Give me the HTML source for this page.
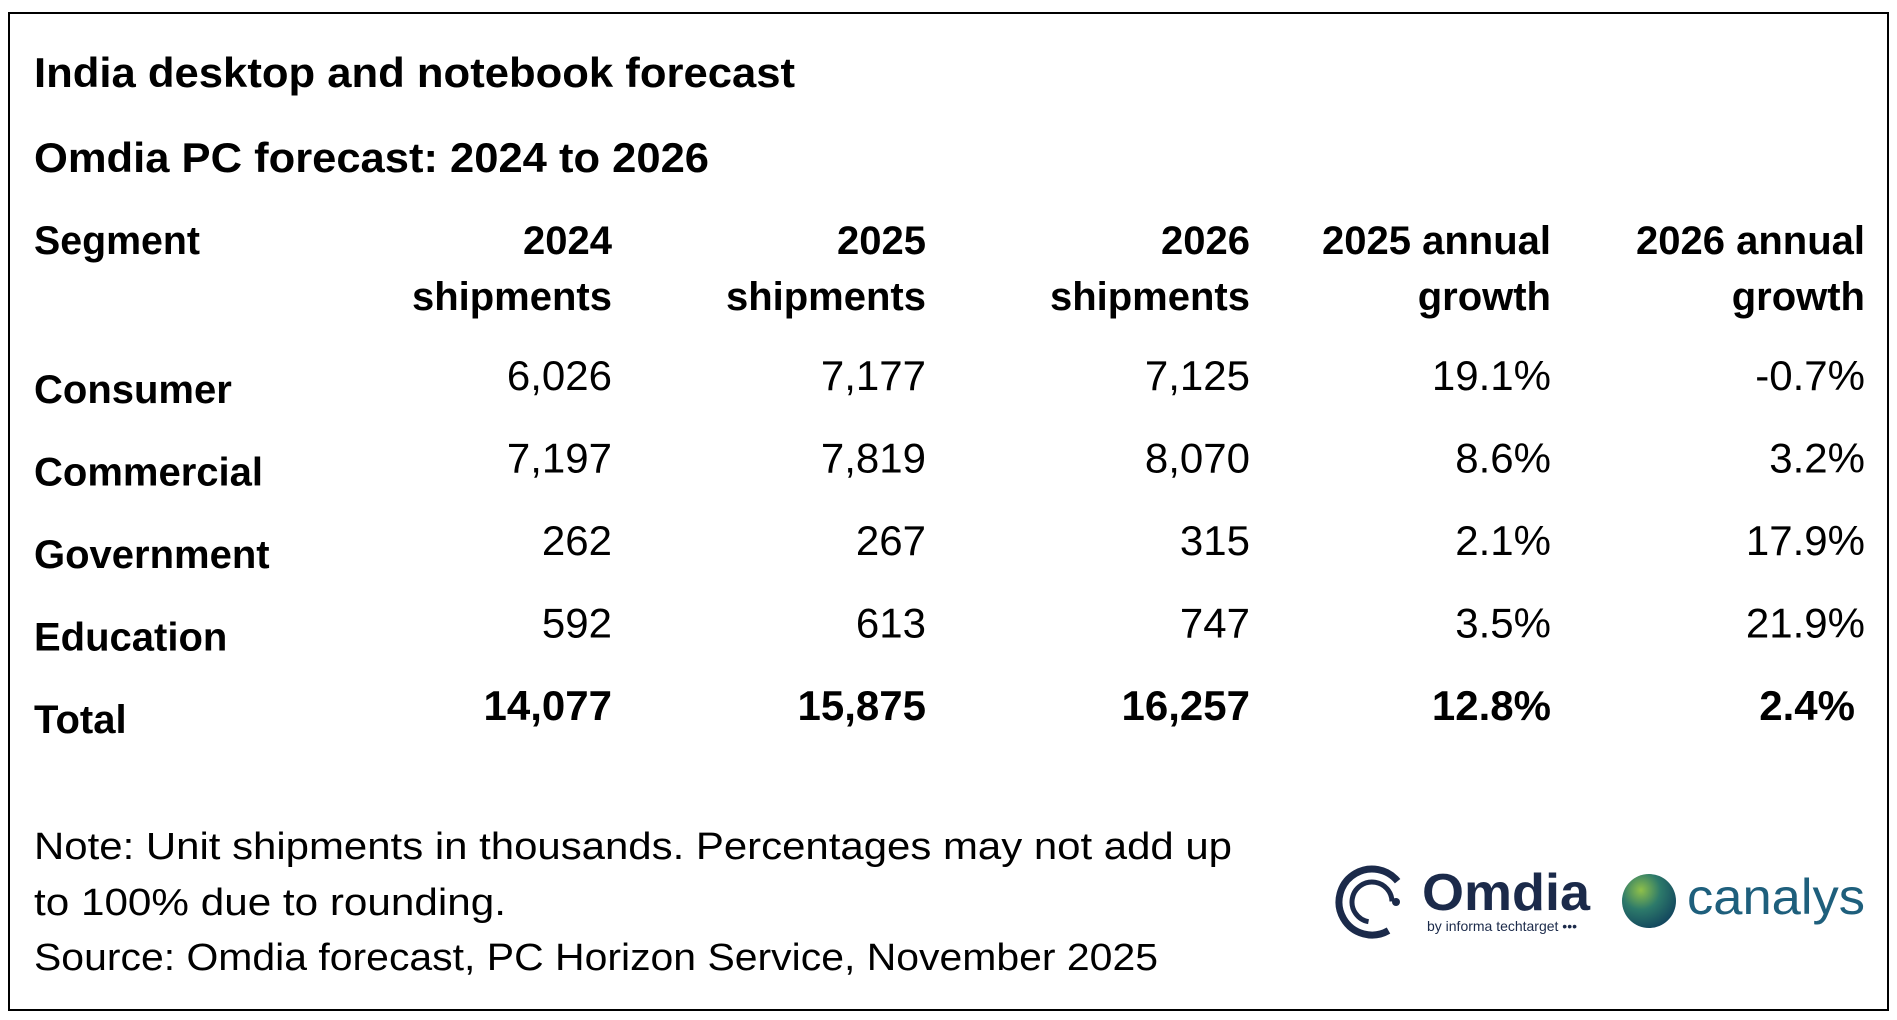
<!DOCTYPE html>
<html><head><meta charset="utf-8"><style>
html,body{margin:0;padding:0;background:#fff;}
svg{display:block;}
text{font-family:"Liberation Sans",Arial,sans-serif;fill:#000;}
</style></head><body>
<svg id="chart" width="1897" height="1020" viewBox="0 0 1897 1020" xmlns="http://www.w3.org/2000/svg">
<rect x="0" y="0" width="1897" height="1020" fill="#fff"/>
<rect x="9" y="13" width="1879" height="997" fill="none" stroke="#000" stroke-width="2"/>
<text x="34" y="87" font-size="42" font-weight="bold" textLength="761" lengthAdjust="spacingAndGlyphs">India desktop and notebook forecast</text>
<text x="34" y="172" font-size="42" font-weight="bold" textLength="675" lengthAdjust="spacingAndGlyphs">Omdia PC forecast: 2024 to 2026</text>
<text x="34" y="254" font-size="40" font-weight="bold" textLength="166" lengthAdjust="spacingAndGlyphs">Segment</text>
<g id="table"></g>
<text x="34" y="859" font-size="38" textLength="1198" lengthAdjust="spacingAndGlyphs">Note: Unit shipments in thousands. Percentages may not add up</text>
<text x="34" y="915" font-size="38" textLength="472" lengthAdjust="spacingAndGlyphs">to 100% due to rounding.</text>
<text x="34" y="970" font-size="38" textLength="1124" lengthAdjust="spacingAndGlyphs">Source: Omdia forecast, PC Horizon Service, November 2025</text>
<g>
<circle cx="1372" cy="902" r="33" fill="none" stroke="#1b2a4a" stroke-width="7" stroke-dasharray="150 60" transform="rotate(60 1372 902)"/>
<circle cx="1372" cy="902" r="20" fill="none" stroke="#1b2a4a" stroke-width="5" stroke-dasharray="90 40" transform="rotate(100 1372 902)"/>
<circle cx="1396" cy="902" r="4" fill="#1b2a4a"/>
<text x="1422" y="910" font-size="52" font-weight="bold" fill="#1b2a4a" style="fill:#1b2a4a" textLength="168" lengthAdjust="spacingAndGlyphs">Omdia</text>
<text x="1427" y="931" font-size="14" style="fill:#1b2a4a" textLength="150" lengthAdjust="spacingAndGlyphs">by informa techtarget •••</text>
</g>
<g>
<defs><radialGradient id="sph" cx="0.35" cy="0.3" r="0.8"><stop offset="0" stop-color="#8fc04a"/><stop offset="0.45" stop-color="#2d7a6a"/><stop offset="1" stop-color="#0f3f5c"/></radialGradient></defs>
<circle cx="1649" cy="901" r="27" fill="url(#sph)"/>
<text x="1687" y="914" font-size="50" style="fill:#1e5f7c" textLength="178" lengthAdjust="spacingAndGlyphs">canalys</text>
</g>
</svg>
<script>
const segments = ["Consumer","Commercial","Government","Education","Total"];
const ship2024 = ["6,026","7,197","262","592","14,077"];
const ship2025 = ["7,177","7,819","267","613","15,875"];
const ship2026 = ["7,125","8,070","315","747","16,257"];
const growth2025 = ["19.1%","8.6%","2.1%","3.5%","12.8%"];
const growth2026 = ["-0.7%","3.2%","17.9%","21.9%","2.4%"];
const headerTop = ["2024","2025","2026","2025 annual","2026 annual"];
const headerBottom = ["shipments","shipments","shipments","growth","growth"];

const NS = "http://www.w3.org/2000/svg";
const g = document.getElementById('table');
const colRight = [612, 926, 1250, 1551, 1865];
const rowY = i => 390 + i * 82.5;
function txt(x, y, s, opts) {
  const t = document.createElementNS(NS, 'text');
  t.setAttribute('x', x); t.setAttribute('y', y);
  t.setAttribute('font-size', opts.size);
  if (opts.bold) t.setAttribute('font-weight', 'bold');
  if (opts.end) t.setAttribute('text-anchor', 'end');
  t.textContent = s;
  g.appendChild(t);
  return t;
}
headerTop.forEach((h, c) => {
  const a = txt(colRight[c], 254, h, {size: 40, bold: true, end: true});
  
  
  const b = txt(colRight[c], 310, headerBottom[c], {size: 40, bold: true, end: true});
  
  
});
const cols = [ship2024, ship2025, ship2026, growth2025, growth2026];
segments.forEach((s, i) => {
  const bold = i === segments.length - 1;
  const l = txt(34, rowY(i) + 13, s, {size: 40, bold: true});
  
  
  cols.forEach((arr, c) => {
    const x = (bold && c === 4) ? colRight[c] - 10 : colRight[c];
    const v = txt(x, rowY(i), arr[i], {size: 42, bold: bold, end: true});
    
    
  });
});
</script>
</body></html>
